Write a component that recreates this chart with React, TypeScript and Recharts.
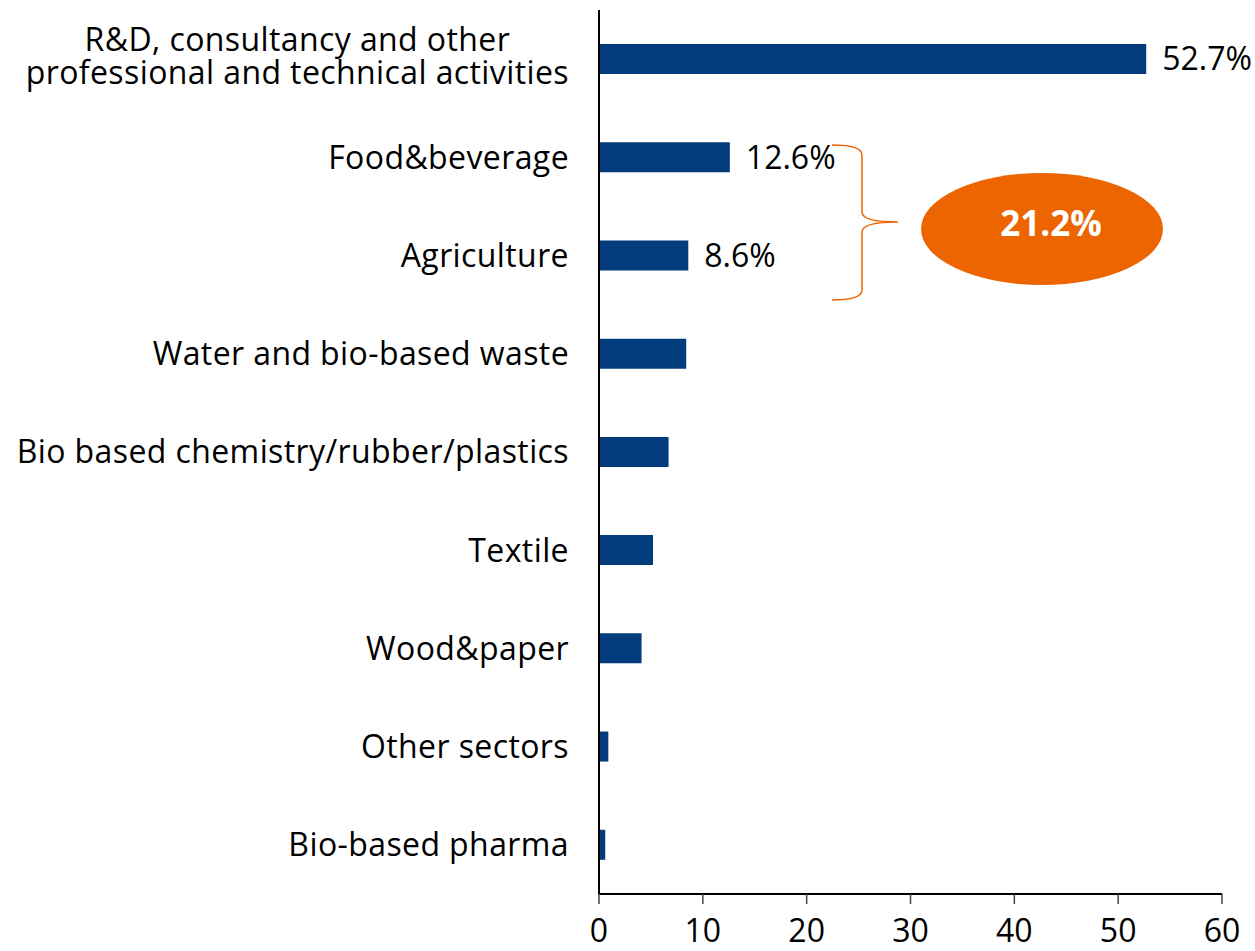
import React from 'react';
import { BarChart, Bar, XAxis, YAxis, LabelList } from 'recharts';

const categories = [
  'R&D, consultancy and other\nprofessional and technical activities',
  'Food&beverage',
  'Agriculture',
  'Water and bio-based waste',
  'Bio based chemistry/rubber/plastics',
  'Textile',
  'Wood&paper',
  'Other sectors',
  'Bio-based pharma',
];
const shares = [52.7, 12.6, 8.6, 8.4, 6.7, 5.2, 4.1, 0.9, 0.6];
const valueLabels = ['52.7%', '12.6%', '8.6%'];
const xTicks = [0, 10, 20, 30, 40, 50, 60];
const groupTotal = '21.2%';

const data = categories.map((name, i) => ({
  name,
  value: shares[i],
  label: valueLabels[i] ?? '',
}));

const FONT = '"Open Sans", Lato, sans-serif';
const FS = 32;
const LS = 0.4;
const BLUE = '#023C7C';
const ORANGE = '#EC6500';

let ctx: CanvasRenderingContext2D | null = null;
function measure(text: string) {
  if (!ctx) ctx = document.createElement('canvas').getContext('2d');
  if (!ctx) return text.length * FS * 0.5;
  ctx.font = `${FS}px ${FONT}`;
  return ctx.measureText(text).width + text.length * LS;
}

function CategoryTick({ x, y, payload }: any) {
  const lines = String(payload.value).split('\n');
  const lineH = 33;
  if (lines.length === 1) {
    return (
      <text x={x} y={y} dy="0.355em" textAnchor="end" fontSize={FS} fontFamily={FONT} letterSpacing={LS} fill="#000">
        {lines[0]}
      </text>
    );
  }
  // two-line label is centred on itself, right edge flush with the others
  const maxW = Math.max(...lines.map(measure));
  const cx = x - maxW / 2;
  const top = y - 3 - ((lines.length - 1) * lineH) / 2;
  return (
    <text textAnchor="middle" fontSize={FS} fontFamily={FONT} letterSpacing={LS} fill="#000">
      {lines.map((l, i) => (
        <tspan key={i} x={cx} y={top + i * lineH} dy="0.355em">
          {l}
        </tspan>
      ))}
    </text>
  );
}

export default function App() {
  return (
    <div style={{ position: 'absolute', left: 0, top: 0, width: 1255, height: 951, background: '#fff' }}>
      <BarChart
        width={1255}
        height={951}
        data={data}
        layout="vertical"
        margin={{ top: 10, right: 33, bottom: 0, left: 0 }}
      >
        <XAxis
          type="number"
          domain={[0, 60]}
          ticks={xTicks}
          height={57}
          tickSize={10}
          tickMargin={15}
          axisLine={{ stroke: '#000', strokeWidth: 2 }}
          tickLine={{ stroke: '#444', strokeWidth: 1.5 }}
          tick={{ fill: '#000', fontSize: FS, fontFamily: FONT }}
        />
        <YAxis
          type="category"
          dataKey="name"
          width={599}
          tickSize={0}
          tickMargin={30}
          tickLine={false}
          axisLine={{ stroke: '#000', strokeWidth: 2 }}
          tick={<CategoryTick />}
          interval={0}
        />
        <Bar dataKey="value" fill={BLUE} barSize={30} isAnimationActive={false}>
          <LabelList
            dataKey="label"
            position="right"
            offset={16}
            fill="#000"
            fontSize={FS}
            fontFamily={FONT}
          />
        </Bar>
      </BarChart>
      {/* hand-drawn style annotation: brace + total bubble */}
      <svg
        width={1255}
        height={951}
        style={{ position: 'absolute', left: 0, top: 0, pointerEvents: 'none' }}
      >
        <path
          d="M832,145 Q862,145 862,155 L862,212 Q862,222 898,222 Q862,222 862,232 L862,290 Q862,300 832,300"
          fill="none"
          stroke={ORANGE}
          strokeWidth={1.5}
        />
        <ellipse cx={1042} cy={229} rx={121} ry={56} fill={ORANGE} />
        <text
          x={1051}
          y={236}
          textAnchor="middle"
          fontSize={35}
          fontWeight="bold"
          fontFamily={FONT}
          fill="#fff"
        >
          {groupTotal}
        </text>
      </svg>
    </div>
  );
}
